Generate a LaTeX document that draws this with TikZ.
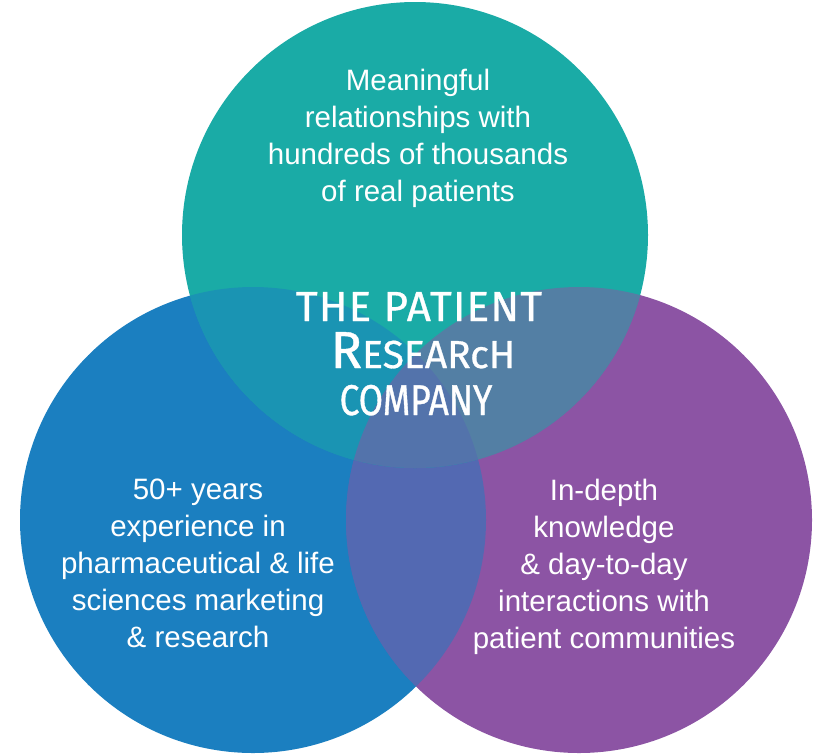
\documentclass[tikz,border=0pt]{standalone}
\usepackage{fontspec}
\setmainfont{Liberation Sans}
\newfontfamily\handfont{Fira Sans}[FakeBold=0.8]
\definecolor{tealcirc}{RGB}{26,171,166}
\definecolor{bluecirc}{RGB}{27,127,192}
\definecolor{purplecirc}{RGB}{140,84,164}

\begin{document}
\begin{tikzpicture}[x=1pt, y=-1pt,
  blurb/.style={text=white, align=center, inner sep=0pt, anchor=north, font=\fontsize{29.5}{37}\selectfont},
  title/.style={text=white, inner sep=0pt, anchor=base, font=\handfont}]
  \useasboundingbox (0,0) rectangle (830,753);
  \coordinate (tealc) at (415,235);
  \coordinate (bluec) at (253,520);
  \coordinate (purplec) at (579,520);

  % lower circles, blue and purple mixed where they meet
  \fill[bluecirc] (bluec) circle (233);
  \fill[purplecirc] (purplec) circle (233);
  \begin{scope}
    \clip (purplec) circle (233);
    \fill[bluecirc, opacity=0.5] (bluec) circle (233);
  \end{scope}

  % top circle, mixed with the two below
  \fill[tealcirc] (tealc) circle (233);
  \begin{scope}
    \clip (tealc) circle (233);
    \fill[bluecirc, opacity=0.5] (bluec) circle (233);
    \fill[purplecirc, opacity=0.5] (purplec) circle (233);
  \end{scope}

  % texts
  \node[blurb] (patients) at (418,69) {Meaningful\\relationships with\\hundreds of thousands\\of real patients};
  \node[blurb] (experience) at (198,479) {50+ years\\experience in\\pharmaceutical \& life\\sciences marketing\\\& research};
  \node[blurb] (knowledge) at (604,479) {In-depth\\knowledge\\\& day-to-day\\interactions with\\patient communities};

  \node[title, font=\handfont\addfontfeatures{LetterSpace=3}\fontsize{42}{47}\selectfont] (name1) at (419,321) {THE PATIENT};
  \node[title, font=\handfont\fontsize{39}{47}\selectfont] (name2) at (423,368) {{\fontsize{52}{52}\selectfont R}ESEARcH};
  \node[title, font=\handfont\addfontfeatures{FakeStretch=0.82}\fontsize{43}{47}\selectfont] (name3) at (416,415) {COMPANY};
\end{tikzpicture}
\end{document}
